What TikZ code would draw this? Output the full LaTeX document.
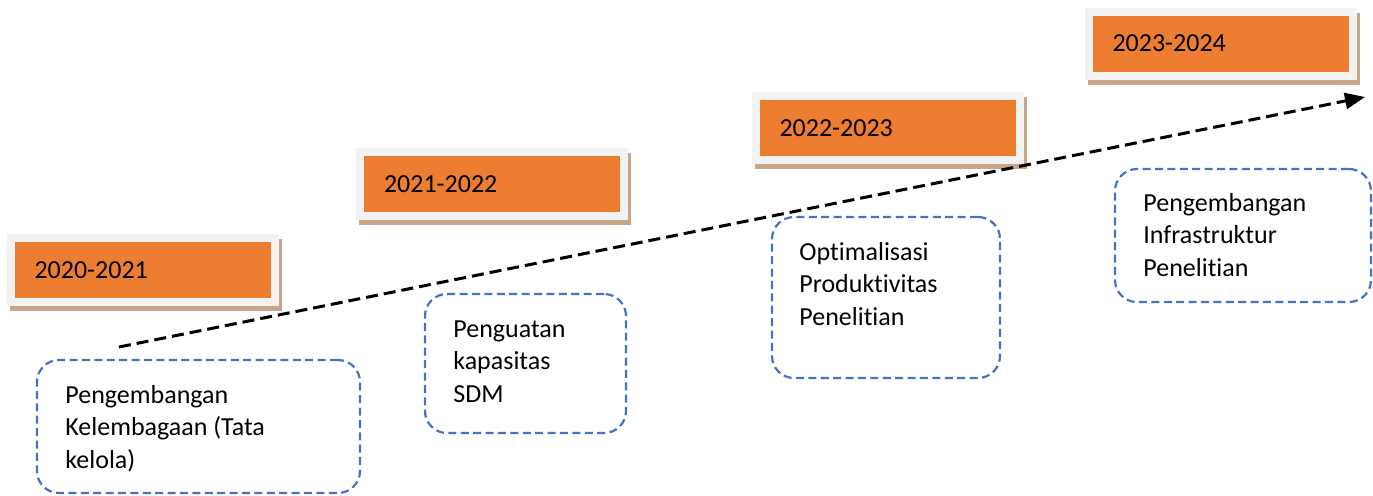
\documentclass[tikz,border=0pt]{standalone}
\usepackage{fontspec}
\setmainfont{Carlito}[Ligatures=NoCommon]
\usetikzlibrary{positioning, arrows.meta, shadows}

\definecolor{yearorange}{HTML}{ED7D31}
\definecolor{framegray}{HTML}{F2F2F2}
\definecolor{shadowbrown}{HTML}{C9A68B}
\definecolor{goalblue}{HTML}{4472C4}

\tikzset{
  year/.style={fill=yearorange, draw=framegray, line width=4pt,
    minimum width=132pt, minimum height=32pt, inner xsep=12pt, inner ysep=0pt,
    text width=108pt, align=flush left,
    drop shadow={shadow xshift=1.5pt, shadow yshift=-2.5pt, fill=shadowbrown,
      draw=shadowbrown, line width=4pt, opacity=1}},
  goal/.style={draw=goalblue, line width=1.1pt, dash pattern=on 4pt off 2.2pt,
    rounded corners=11pt},
  goaltext/.style={anchor=base west, inner sep=0pt, text width=150pt, align=flush left},
  timeline/.style={line width=1.5pt, dash pattern=on 6pt off 3pt,
    -{Triangle[length=10pt,width=8pt]}}
}

\begin{document}
\begin{tikzpicture}[x=0.5pt, y=-0.5pt, font=\fontsize{13}{16.25}\selectfont]
    \useasboundingbox (0,0) rectangle (1373,495);

    % tahun
    \node[year] (y1) at (142.5,270) {2020-2021};
    \node[year] (y2) at (492,184) {2021-2022};
    \node[year] (y3) at (887.5,128) {2022-2023};
    \node[year] (y4) at (1220.5,43.5) {2023-2024};

    % kotak program
    \node[goal, minimum width=161.5pt, minimum height=66.5pt] (g1) at (198.5,426.5) {};
    \node[goal, minimum width=100.5pt, minimum height=69.5pt] (g2) at (525.5,363.5) {};
    \node[goal, minimum width=114pt, minimum height=80.5pt] (g3) at (886,297.5) {};
    \node[goal, minimum width=128pt, minimum height=66.5pt] (g4) at (1243,235.5) {};

    \node[goaltext] (t1) at (65,403) {Pengembangan\\Kelembagaan (Tata\\kelola)};
    \node[goaltext] (t2) at (453,337) {Penguatan\\kapasitas\\SDM};
    \node[goaltext] (t3) at (799,260) {Optimalisasi\\Produktivitas\\Penelitian};
    \node[goaltext] (t4) at (1143,211) {Pengembangan\\Infrastruktur\\Penelitian};

    % garis waktu
    \coordinate (start) at (119,347);
    \coordinate (end) at (1365,97);
    \draw[timeline] (start) -- (end);
\end{tikzpicture}
\end{document}
